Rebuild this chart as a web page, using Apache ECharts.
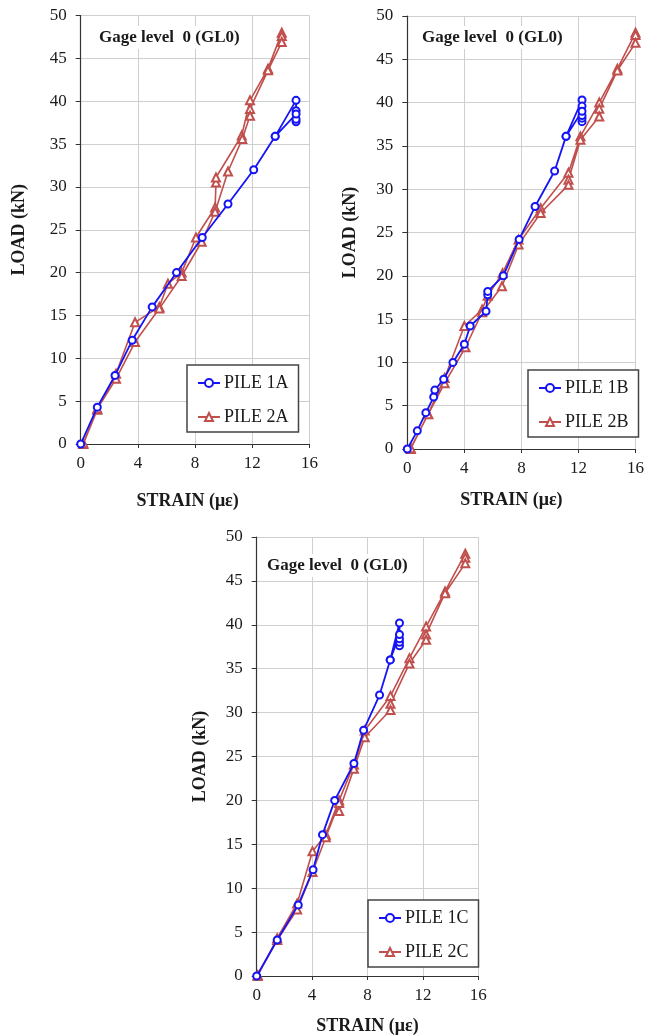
<!DOCTYPE html>
<html>
<head>
<meta charset="utf-8">
<title>Gage level 0 (GL0)</title>
<script src="https://cdn.jsdelivr.net/npm/echarts@6/dist/echarts.min.js"></script>
<style>
  html, body { margin: 0; padding: 0; background: #fff; }
  #chart { width: 647px; height: 1036px; }
</style>
</head>
<body>
<div id="chart"></div>
<script>
  // ---- data (strain in µε, load in kN) ----
  var strainTicks = [0, 4, 8, 12, 16];

  // chart A
  var pile1A_strain = [0, 1.16, 2.4, 3.6, 5.0, 6.7, 8.5, 10.3, 12.1, 13.6, 15.06, 15.06, 15.06, 15.06, 15.06, 13.6];
  var pile1A_load   = [0, 4.3, 8.0, 12.1, 16.0, 20.0, 24.1, 28.0, 32.0, 35.9, 40.1, 37.6, 37.9, 38.9, 38.5, 35.9];
  var pile2A_strain = [0.18, 1.16, 2.47, 3.8, 5.5, 6.1, 7.06, 8.06, 9.4, 9.46, 9.46, 11.26, 11.84, 13.1, 14.06, 14.06, 14.06,
                       13.1, 11.84, 11.84, 11.3, 10.3, 9.4, 8.46, 7.06, 5.5, 3.8, 2.47, 1.16, 0.18];
  var pile2A_load   = [0, 4.0, 8.2, 14.2, 16.0, 18.7, 20.0, 24.1, 27.6, 30.5, 31.1, 36.0, 40.1, 43.8, 48.0, 47.6, 46.9,
                       43.6, 39.1, 38.3, 35.6, 31.8, 27.1, 23.6, 19.6, 15.8, 11.9, 7.6, 4.1, 0.1];

  // chart B
  var pile1B_strain = [0, 0.7, 1.3, 1.85, 1.93, 2.55, 3.2, 4.0, 4.41, 5.52, 5.64, 5.64, 6.73, 7.84, 8.96, 10.33, 11.13,
                       12.25, 12.25, 12.25, 12.25, 12.25, 12.25, 11.13];
  var pile1B_load   = [0, 2.1, 4.2, 6.0, 6.8, 8.05, 10.0, 12.1, 14.2, 15.9, 17.8, 18.2, 20.0, 24.2, 28.0, 32.1, 36.1,
                       40.3, 39.6, 37.8, 38.2, 38.5, 39.0, 36.1];
  var pile2B_strain = [0.24, 1.46, 2.62, 4.0, 5.25, 5.64, 6.68, 7.8, 9.35, 11.3, 12.14, 13.46, 14.73, 16.0, 16.0, 16.0,
                       14.73, 13.46, 13.46, 12.14, 11.3, 11.3, 9.35, 7.8, 6.64, 5.25, 4.08, 2.62, 1.46, 0.24];
  var pile2B_load   = [0, 4.05, 8.2, 14.2, 16.1, 17.7, 20.3, 24.2, 27.8, 31.9, 36.1, 40.0, 43.9, 48.06, 47.8, 46.9,
                       43.7, 39.3, 38.4, 35.7, 31.1, 30.5, 27.25, 23.6, 18.8, 15.8, 11.75, 7.6, 4.0, 0.1];

  // chart C
  var pile1C_strain = [0, 1.48, 3.0, 4.07, 4.75, 5.63, 7.02, 7.72, 8.87, 9.64, 10.31, 10.31, 10.31, 10.31, 10.31, 9.64];
  var pile1C_load   = [0, 4.1, 8.1, 12.1, 16.1, 20.0, 24.2, 28.0, 32.0, 36.0, 40.2, 37.6, 38.0, 38.4, 38.9, 36.0];
  var pile2C_strain = [0.07, 1.48, 2.92, 4.03, 4.99, 5.95, 7.02, 7.8, 9.66, 11.03, 12.23, 13.6, 15.06, 15.06, 15.06,
                       13.6, 12.23, 12.23, 11.03, 9.66, 9.66, 7.8, 7.02, 5.95, 5.95, 4.99, 4.03, 2.92, 1.48, 0.07];
  var pile2C_load   = [0, 4.3, 8.26, 14.2, 16.1, 20.0, 24.1, 27.95, 31.9, 36.2, 39.8, 43.8, 48.1, 47.65, 47.0,
                       43.6, 38.9, 38.3, 35.6, 31.0, 30.3, 27.2, 23.6, 18.8, 19.7, 15.8, 11.85, 7.58, 4.1, 0.1];

  var panelNames = ['A', 'B', 'C'];

  // ---- layout of the three plots (px) ----
  var plots = [
    { left: 80.7, top: 15.5, width: 228.8, height: 428.5, nameGapX: 48, nameGapY: 52, padX: 15,
      title: [95, 26], legend: [187, 365] },
    { left: 407.3, top: 16, width: 230.7, height: 433, nameGapX: 42, nameGapY: 48, padX: 20,
      title: [418, 26], legend: [528, 370] },
    { left: 256.7, top: 537, width: 221.6, height: 439, nameGapX: 41, nameGapY: 47, padX: 0,
      title: [263, 554], legend: [368, 900] }
  ];

  var serifFont = '"Liberation Serif", "Times New Roman", serif';
  var blue = '#1414f5';
  var red = '#c0504d';

  function pairs(xs, ys) {
    var out = [];
    for (var i = 0; i < xs.length; i++) out.push([xs[i], ys[i]]);
    return out;
  }

  var seriesData = [
    [pairs(pile1A_strain, pile1A_load), pairs(pile2A_strain, pile2A_load)],
    [pairs(pile1B_strain, pile1B_load), pairs(pile2B_strain, pile2B_load)],
    [pairs(pile1C_strain, pile1C_load), pairs(pile2C_strain, pile2C_load)]
  ];

  var option = {
    animation: false,
    backgroundColor: '#fff',
    title: [], legend: [], grid: [], xAxis: [], yAxis: [], series: []
  };

  plots.forEach(function (p, i) {
    var n1 = 'PILE 1' + panelNames[i], n2 = 'PILE 2' + panelNames[i];

    option.grid.push({ left: p.left, top: p.top, width: p.width, height: p.height, containLabel: false });

    option.xAxis.push({
      gridIndex: i, type: 'value', min: strainTicks[0], max: strainTicks[strainTicks.length - 1], interval: 4,
      name: 'STRAIN (με)', nameLocation: 'middle', nameGap: p.nameGapX,
      nameTextStyle: { fontFamily: serifFont, fontWeight: 'bold', fontSize: 18, color: '#1a1a1a', padding: [0, p.padX, 0, 0] },
      axisLine: { show: true, lineStyle: { color: '#333', width: 1.2 } },
      axisTick: { show: true, length: 4, lineStyle: { color: '#333' } },
      axisLabel: { fontFamily: serifFont, fontSize: 17, color: '#1a1a1a', margin: 11 },
      splitLine: { show: true, lineStyle: { color: '#cfcfcf', width: 1 } }
    });

    option.yAxis.push({
      gridIndex: i, type: 'value', min: 0, max: 50, interval: 5,
      name: 'LOAD (kN)', nameLocation: 'middle', nameGap: p.nameGapY, nameRotate: 90,
      nameTextStyle: { fontFamily: serifFont, fontWeight: 'bold', fontSize: 18, color: '#1a1a1a' },
      axisLine: { show: true, lineStyle: { color: '#333', width: 1.2 } },
      axisTick: { show: true, length: 5, lineStyle: { color: '#333' } },
      axisLabel: { fontFamily: serifFont, fontSize: 17, color: '#1a1a1a', margin: 14 },
      splitLine: { show: true, lineStyle: { color: '#cfcfcf', width: 1 } }
    });

    option.title.push({
      text: 'Gage level  0 (GL0)', left: p.title[0], top: p.title[1],
      backgroundColor: '#fff', padding: [3, 4],
      textStyle: { fontFamily: serifFont, fontWeight: 'bold', fontSize: 17, color: '#1a1a1a' }
    });

    option.legend.push({
      data: [n1, n2], orient: 'vertical', left: p.legend[0], top: p.legend[1],
      padding: [9, 10, 6, 10], itemGap: 16, itemWidth: 22, itemHeight: 10,
      backgroundColor: '#fff', borderColor: '#444', borderWidth: 1.5, borderRadius: 0,
      textStyle: { fontFamily: serifFont, fontSize: 18, color: '#1a1a1a', padding: [0, 0, 0, -1] }
    });

    option.series.push({
      name: n1, type: 'line', xAxisIndex: i, yAxisIndex: i,
      data: seriesData[i][0], symbol: 'emptyCircle', symbolSize: 7, showAllSymbol: true,
      itemStyle: { color: blue, borderWidth: 1.5 },
      lineStyle: { color: blue, width: 1.8 }, z: 3
    });
    option.series.push({
      name: n2, type: 'line', xAxisIndex: i, yAxisIndex: i,
      data: seriesData[i][1], symbol: 'emptyTriangle', symbolSize: 8, showAllSymbol: true,
      itemStyle: { color: red, borderWidth: 1.3 },
      lineStyle: { color: red, width: 1.6 }, z: 2
    });
  });

  var chart = echarts.init(document.getElementById('chart'));
  chart.setOption(option);
</script>
</body>
</html>
